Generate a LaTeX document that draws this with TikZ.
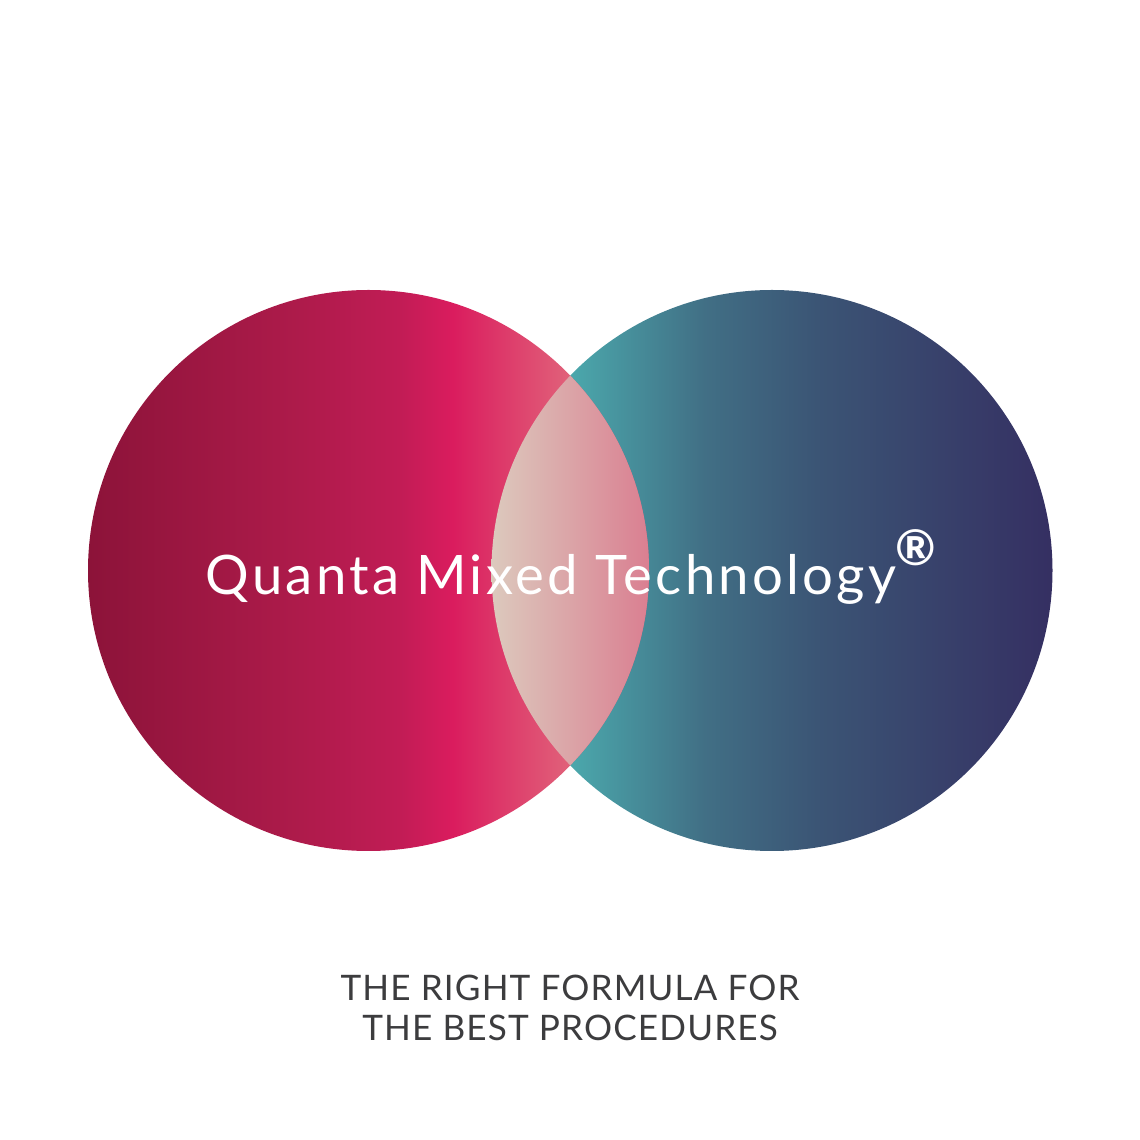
\documentclass[tikz,border=0pt]{standalone}
\usepackage{fontspec}
\setmainfont{Lato}
\newfontfamily\titlefont[LetterSpace=6]{Lato}
\newfontfamily\subfont[LetterSpace=3.2]{Lato}
\usepackage{xcolor}
\definecolor{wineDark}{HTML}{8C1339}
\definecolor{wineMid}{HTML}{AE1B4B}
\definecolor{wineHigh}{HTML}{C11C55}
\definecolor{crimson}{HTML}{DA1C5E}
\definecolor{rose}{HTML}{E1627A}
\definecolor{sand}{HTML}{DCC9BD}
\definecolor{pinkEnd}{HTML}{DA7F91}
\definecolor{teal}{HTML}{4BA8AC}
\definecolor{tealMid}{HTML}{416F85}
\definecolor{slate}{HTML}{3B5575}
\definecolor{navy}{HTML}{352F62}
\definecolor{slogan}{HTML}{3C3C3E}
% 25bp and 75bp are the edges of the shaded box
\pgfdeclarehorizontalshading{redmix}{100bp}{color(0bp)=(wineDark); color(25bp)=(wineDark); color(44bp)=(wineMid); color(52.7bp)=(wineHigh); color(57.5bp)=(crimson); color(68bp)=(rose); color(75bp)=(rose); color(100bp)=(rose)}
\pgfdeclarehorizontalshading{lensmix}{100bp}{color(0bp)=(sand); color(25bp)=(sand); color(75bp)=(pinkEnd); color(100bp)=(pinkEnd)}
\pgfdeclarehorizontalshading{bluemix}{100bp}{color(0bp)=(teal); color(32bp)=(teal); color(44bp)=(tealMid); color(54bp)=(slate); color(75bp)=(navy); color(100bp)=(navy)}
\begin{document}
\begin{tikzpicture}[x=0.02cm, y=0.02cm,
    disc/.style={shading angle=0},
    title/.style={text=white, inner sep=0pt, font=\fontsize{31}{36}\selectfont\titlefont},
    tagline/.style={text=slogan, align=center, inner sep=0pt, font=\fontsize{20}{23.2}\selectfont\subfont}]

    \useasboundingbox (0,0) rectangle (1140,1140);

    % Circles
    \shade [disc, shading=bluemix] (772,569.5) circle (280.5);
    \shade [disc, shading=redmix] (368.5,569.5) circle (280.5);
    \begin{scope}
        \clip (368.5,569.5) circle (280.5);
        \clip (772,569.5) circle (280.5);
        \shade [shading=lensmix] (491.5,280) rectangle (649,860);
    \end{scope}

    % Texts
    \node [title] (name) at (551,561) {Quanta Mixed Technology};
    \node [title, font=\fontsize{28}{36}\selectfont\bfseries] (mark) at (916,592) {®};
    \node [tagline] (claim) at (570,132) {THE RIGHT FORMULA FOR\\THE BEST PROCEDURES};

\end{tikzpicture}
\end{document}
